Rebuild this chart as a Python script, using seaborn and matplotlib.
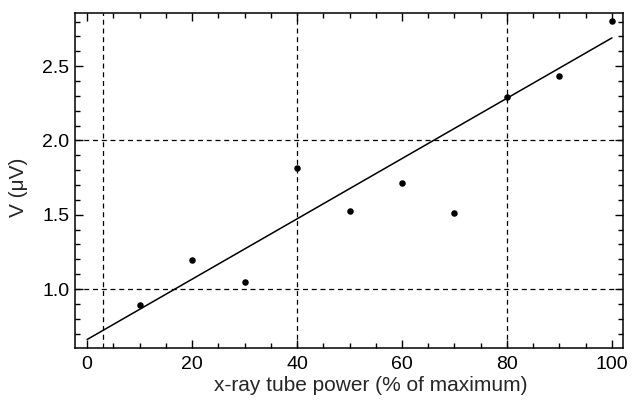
import matplotlib
matplotlib.use("Agg")
import matplotlib.pyplot as plt
from matplotlib.ticker import MultipleLocator
import seaborn as sns
import pandas as pd

# data
power = [10, 20, 30, 40, 50, 60, 70, 80, 90, 100]
voltage = [0.89, 1.195, 1.045, 1.815, 1.525, 1.715, 1.512, 2.295, 2.435, 2.805]
fit_x = [0, 100]
fit_y = [0.66, 2.69]
vlines = [3.1, 40, 80]
hlines = [1.0, 2.0]
xlabel = "x-ray tube power (% of maximum)"
ylabel = "V (\u03bcV)"

sns.set_theme(style="ticks")
plt.rcParams["font.family"] = ["Liberation Sans", "DejaVu Sans"]

fig = plt.figure(figsize=(6.32, 4.03), dpi=100)
ax = fig.add_axes([0.1187, 0.1365, 0.867, 0.831])

for v in vlines:
    ax.axvline(v, color="black", ls=(0, (4, 3)), lw=0.9, zorder=1)
for h in hlines:
    ax.axhline(h, color="black", ls=(0, (4, 3)), lw=0.9, zorder=1)

df_fit = pd.DataFrame({"x": fit_x, "y": fit_y})
sns.lineplot(data=df_fit, x="x", y="y", color="black", lw=1.1, ax=ax, zorder=2)
df = pd.DataFrame({"x": power, "y": voltage})
sns.scatterplot(data=df, x="x", y="y", color="black", s=22, marker="o",
                edgecolor="black", linewidth=0, ax=ax, zorder=3)

ax.set_xlim(-2.3, 102.1)
ax.set_ylim(0.603, 2.857)
ax.xaxis.set_major_locator(MultipleLocator(20))
ax.xaxis.set_minor_locator(MultipleLocator(5))
ax.yaxis.set_major_locator(MultipleLocator(0.5))
ax.yaxis.set_minor_locator(MultipleLocator(0.1))
ax.yaxis.set_major_formatter(matplotlib.ticker.FormatStrFormatter("%.1f"))
ax.tick_params(which="both", direction="in", top=True, right=True,
               colors="black", labelsize=14, width=1.0)
ax.tick_params(which="major", length=6)
ax.tick_params(axis="x", which="major", pad=6)
ax.tick_params(axis="y", which="major", pad=4)
ax.tick_params(which="minor", length=3.5)
for s in ax.spines.values():
    s.set_color("black")
    s.set_linewidth(1.1)

ax.set_xlabel(xlabel, fontsize=15)
ax.set_ylabel(ylabel, fontsize=15)
ax.xaxis.set_label_coords((371 - 75) / 548, -0.085)
ax.yaxis.set_label_coords(-0.085, 0.48)

fig.savefig("out.png", dpi=100)
